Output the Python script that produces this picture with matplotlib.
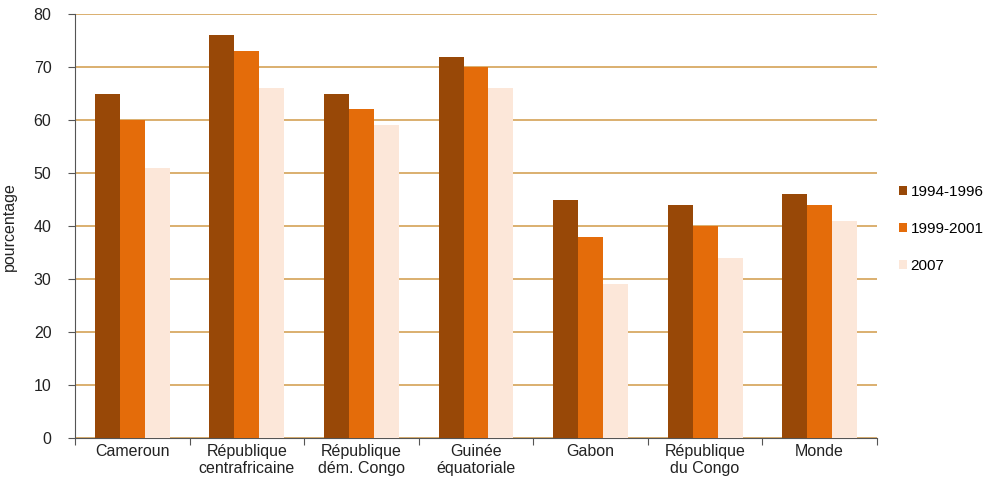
import numpy as np
import matplotlib.pyplot as plt
from matplotlib.patches import Patch

categories = ['Cameroun', 'République\ncentrafricaine', 'République\ndém. Congo',
              'Guinée\néquatoriale', 'Gabon', 'République\ndu Congo', 'Monde']
series_names = ['1994-1996', '1999-2001', '2007']
v_1994 = [65, 76, 65, 72, 45, 44, 46]
v_1999 = [60, 73, 62, 70, 38, 40, 44]
v_2007 = [51, 66, 59, 66, 29, 34, 41]
colors = ['#984807', '#E46C0A', '#FCE7D9']

plt.rcParams['font.family'] = ['Liberation Sans', 'DejaVu Sans']
fs = 11.5

fig = plt.figure(figsize=(9.9, 4.87), dpi=100)
ax = fig.add_axes([0.0758, 0.1006, 0.81, 0.8704])

x = np.arange(len(categories))
w = 0.218
for i, (vals, c, name) in enumerate(zip([v_1994, v_1999, v_2007], colors, series_names)):
    ax.bar(x + (i - 1) * w, vals, width=w, color=c, label=name, zorder=3)

ax.set_xlim(-0.5, len(categories) - 0.5)
ax.set_ylim(0, 80)
ax.set_yticks(np.arange(0, 81, 10))
ax.yaxis.grid(True, color='#D4A256', linewidth=1.2, zorder=0)
ax.set_axisbelow(True)

ax.set_xticks(np.arange(len(categories) + 1) - 0.5)
ax.set_xticklabels([])
ax.set_xticks(x, minor=True)
ax.set_xticklabels(categories, minor=True, fontsize=fs, color='#222222')
ax.tick_params(axis='x', which='minor', length=0, pad=4)
ax.tick_params(axis='x', which='major', length=5, color='#555555')
ax.tick_params(axis='y', labelsize=fs, labelcolor='#222222', length=5, color='#555555', pad=12)

for s in ['top', 'right']:
    ax.spines[s].set_visible(False)
for s in ['left', 'bottom']:
    ax.spines[s].set_color('#555555')

ax.set_ylabel('pourcentage', fontsize=fs, color='#222222', labelpad=12)

handles = [Patch(facecolor=c, label=n) for c, n in zip(colors, series_names)]
fig.legend(handles=handles, loc='center left', bbox_to_anchor=(0.908, 0.53),
           frameon=False, fontsize=11, handlelength=0.55, handleheight=0.55,
           handletextpad=0.2, labelspacing=1.5, borderpad=0, borderaxespad=0)

fig.savefig('out.png', dpi=100)
